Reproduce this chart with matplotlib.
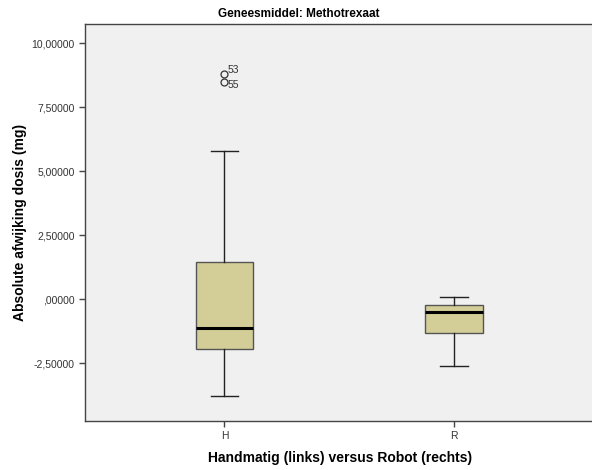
import matplotlib.pyplot as plt
import numpy as np

plt.rcParams['font.family'] = ['Liberation Sans', 'DejaVu Sans']

groepen = ['H', 'R']
mediaan = [-1.11, -0.49]
q1 = [-1.92, -1.30]
q3 = [1.48, -0.21]
whisker_laag = [-3.77, -2.62]
whisker_hoog = [5.81, 0.09]
uitschieters = [[8.80, 8.48], []]
uitschieter_ids = [['53', '55'], []]

yticks = [-2.5, 0, 2.5, 5, 7.5, 10]

def spss_fmt(v):
    s = '{:.5f}'.format(v).replace('.', ',')
    if s.startswith('0,'):
        s = s[1:]
    elif s.startswith('-0,'):
        s = '-' + s[2:]
    return s

fig = plt.figure(figsize=(5.92, 4.70), dpi=100)
ax = fig.add_axes([85/592, 49/470, 1 - 85/592, (421-24)/470])
ax.set_facecolor('#f0f0f0')

stats = []
for i in range(len(groepen)):
    stats.append(dict(med=mediaan[i], q1=q1[i], q3=q3[i],
                      whislo=whisker_laag[i], whishi=whisker_hoog[i],
                      fliers=uitschieters[i], label=groepen[i]))

pos = [1, 2]
ax.bxp(stats, positions=pos, widths=0.25, patch_artist=True,
       boxprops=dict(facecolor='#d3ce97', edgecolor='#555555', linewidth=1),
       medianprops=dict(color='black', linewidth=2.2),
       whiskerprops=dict(color='#222222', linewidth=1),
       capprops=dict(color='#222222', linewidth=1),
       capwidths=0.12,
       flierprops=dict(marker='o', markerfacecolor='none', markeredgecolor='#333333',
                       markersize=5, markeredgewidth=0.9))

# labels bij uitschieters
for i in range(len(groepen)):
    for j, (v, lab) in enumerate(zip(uitschieters[i], uitschieter_ids[i])):
        dy = 0.17 if j == 0 else -0.1
        ax.text(pos[i] + 0.014, v + dy, lab, fontsize=7.5, color='#333333',
                ha='left', va='center')

ax.set_xlim(0.393, 2.601)
ax.set_ylim(-4.75, 10.76)
ax.set_yticks(yticks)
ax.set_yticklabels([spss_fmt(v) for v in yticks])
ax.set_xticks(pos)
ax.set_xticklabels(groepen)
ax.tick_params(axis='both', labelsize=7.5, length=4, width=1, color='#444444', labelcolor='#333333')

for s in ['left', 'top', 'bottom']:
    ax.spines[s].set_color('#444444')
    ax.spines[s].set_linewidth(1)
ax.spines['right'].set_visible(False)

ax.set_ylabel('Absolute afwijking dosis (mg)', fontsize=10, fontweight='bold', labelpad=3)
fig.text(340/592, 1 - 458/470, 'Handmatig (links) versus Robot (rechts)', fontsize=10,
         fontweight='bold', ha='center', va='center')
fig.text(299/592, 1 - 14/470, 'Geneesmiddel: Methotrexaat', fontsize=8.5,
         fontweight='bold', ha='center', va='center')

fig.savefig('out.png', dpi=100)
